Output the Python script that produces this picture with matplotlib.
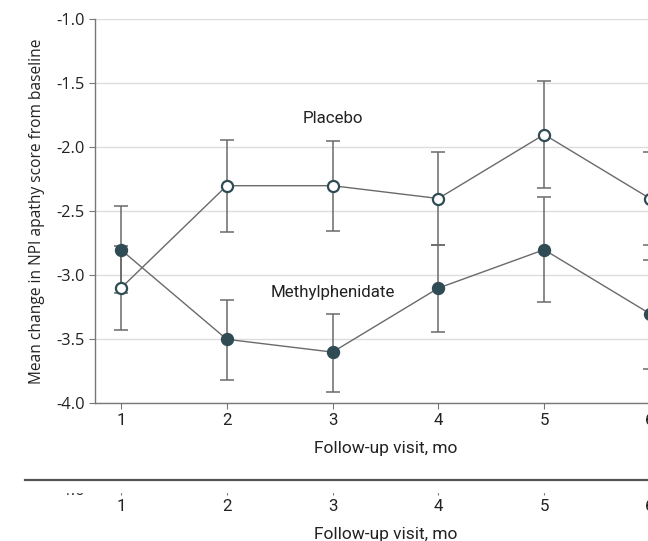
from matplotlib import pyplot as plt
from matplotlib.lines import Line2D
from matplotlib.patches import Rectangle

# Datos
visitas = [1, 2, 3, 4, 5, 6]
placebo = [-3.1, -2.3, -2.3, -2.4, -1.9, -2.4]
placebo_inf = [-3.43, -2.66, -2.65, -2.76, -2.32, -2.76]
placebo_sup = [-2.77, -1.94, -1.95, -2.04, -1.48, -2.04]
metil = [-2.8, -3.5, -3.6, -3.1, -2.8, -3.3]
metil_inf = [-3.14, -3.82, -3.91, -3.44, -3.21, -3.73]
metil_sup = [-2.46, -3.19, -3.30, -2.76, -2.39, -2.88]
yticks = [-4.0, -3.5, -3.0, -2.5, -2.0, -1.5, -1.0]

fuente_cond = ['Roboto', 'DejaVu Sans']
fuente = ['Open Sans', 'DejaVu Sans']
oscuro = '#2f4b53'
gris = '#6a6a6a'

W, H = 648, 541
fig = plt.figure(figsize=(W / 100, H / 100), dpi=100)

# Ejes principales (se salen por la derecha, como en la imagen)
ax_left, ax_w = 94.5 / W, 581.9 / W
ax_bot, ax_h = (H - 403.3) / H, 384.0 / H
ax = fig.add_axes([ax_left, ax_bot, ax_w, ax_h])
ax.set_xlim(0.75, 6.25)
ax.set_ylim(-4.0, -1.0)


def err(v, inf, sup):
    return [[a - b for a, b in zip(v, inf)], [b - a for a, b in zip(v, sup)]]


for vals, inf, sup, cara in [(placebo, placebo_inf, placebo_sup, 'white'),
                             (metil, metil_inf, metil_sup, oscuro)]:
    ax.errorbar(visitas, vals, yerr=err(vals, inf, sup), fmt='none',
                ecolor=gris, elinewidth=1.1, capsize=4.8, capthick=1.1, zorder=2)
    ax.plot(visitas, vals, color=gris, lw=1.0, zorder=3)
    ax.plot(visitas, vals, 'o', ms=8, mfc=cara, mec=oscuro, mew=1.6, zorder=4,
            clip_on=False)

ax.text(3, -1.775, 'Placebo', ha='center', va='center', fontsize=12.2,
        family=fuente_cond, color='#222222')
ax.text(3, -3.136, 'Methylphenidate', ha='center', va='center', fontsize=12.2,
        family=fuente_cond, color='#222222')

ax.set_yticks(yticks)
ax.set_yticklabels(['%.1f' % t for t in yticks], family=fuente, fontsize=11.8)
ax.set_xticks(visitas)
ax.set_xticklabels([str(v) for v in visitas], family=fuente_cond, fontsize=12.2)
ax.yaxis.grid(True, color='#dddddd', lw=1.0)
ax.set_axisbelow(True)
for s in ['top', 'right']:
    ax.spines[s].set_visible(False)
for s in ['left', 'bottom']:
    ax.spines[s].set_color('#777777')
    ax.spines[s].set_linewidth(1.0)
ax.tick_params(length=4, color='#777777', labelcolor='#222222', pad=3)
ax.set_ylabel('Mean change in NPI apathy score from baseline', family=fuente,
              fontsize=11.2, color='#222222', labelpad=8)
ax.set_xlabel('Follow-up visit, mo', family=fuente_cond, fontsize=12.5,
              color='#222222', labelpad=9)

# Franja duplicada de abajo (copia desplazada del eje x)
ax2 = fig.add_axes([ax_left, ax_bot - 86 / H, ax_w, 0.5 / H])
ax2.set_xlim(0.75, 6.25)
ax2.set_ylim(-4.0, -3.99)
ax2.set_yticks([-4.0])
ax2.set_yticklabels(['-4.0'], family=fuente, fontsize=11.8)
ax2.set_xticks(visitas)
ax2.set_xticklabels([str(v) for v in visitas], family=fuente_cond, fontsize=12.2)
ax2.patch.set_visible(False)
for s in ax2.spines.values():
    s.set_visible(False)
ax2.tick_params(length=4, color='#777777', labelcolor='#222222', pad=3)
ax2.set_xlabel('Follow-up visit, mo', family=fuente_cond, fontsize=12.5,
               color='#222222', labelpad=9)

# Tapa blanca y linea gruesa
fig.add_artist(Rectangle((0, (H - 492) / H), 1, 11.5 / H,
                         transform=fig.transFigure, color='white', zorder=5))
fig.add_artist(Line2D([25 / W, 1], [(H - 480) / H] * 2, transform=fig.transFigure,
                      color='#555555', lw=1.6, zorder=6))

plt.savefig('out.png', dpi=100)
